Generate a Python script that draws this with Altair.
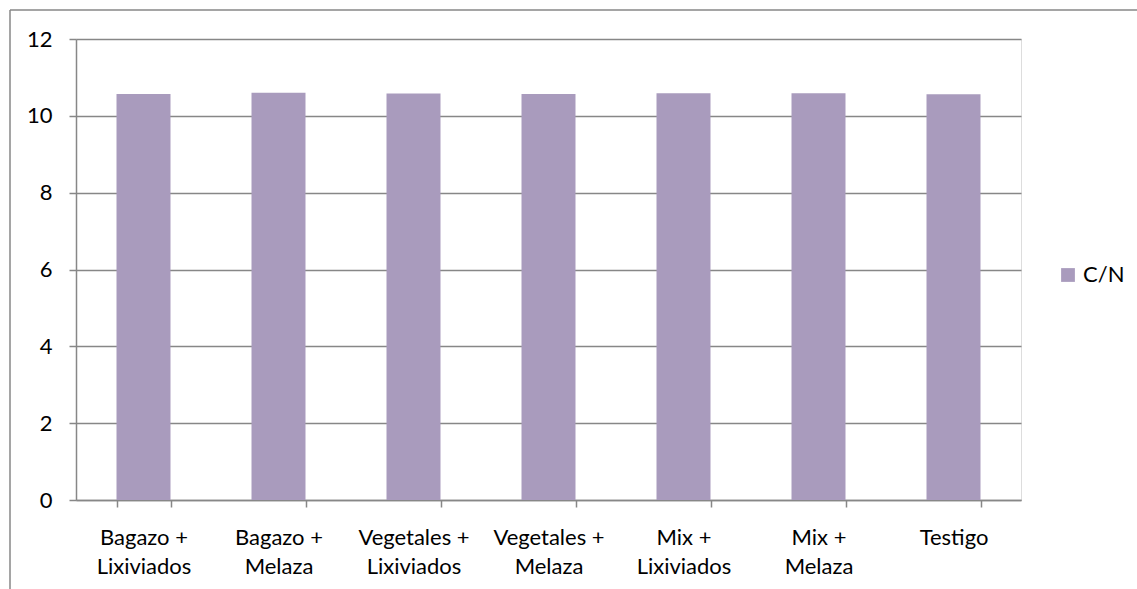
import altair as alt
import pandas as pd

# C/N ratio per treatment
tratamientos = [
    "Bagazo + Lixiviados",
    "Bagazo + Melaza",
    "Vegetales + Lixiviados",
    "Vegetales + Melaza",
    "Mix + Lixiviados",
    "Mix + Melaza",
    "Testigo",
]
cn_valores = [10.57, 10.60, 10.58, 10.57, 10.59, 10.59, 10.56]
serie = "C/N"

df = pd.DataFrame({"tratamiento": tratamientos, "valor": cn_valores, "serie": serie})

FONT = "Lato"
FS = 22
GRAY = "#878787"
BAR = "#A99BBD"

label_expr = (
    "indexof(datum.label, ' + ') >= 0 ? "
    "[split(datum.label, ' + ')[0] + ' +', split(datum.label, ' + ')[1]] : datum.label"
)

bars = alt.Chart(df).mark_bar(color=BAR).encode(
    x=alt.X(
        "tratamiento:N",
        sort=tratamientos,
        scale=alt.Scale(paddingInner=0.6, paddingOuter=0.3),
        axis=alt.Axis(
            title=None,
            labelAngle=0,
            labelExpr=label_expr,
            labelFont=FONT,
            labelFontSize=FS,
            labelFontWeight="normal",
            labelColor="#000000",
            labelLineHeight=29,
            labelBaseline="alphabetic",
            labelPadding=37,
            tickBand="extent",
            tickSize=7,
            tickColor=GRAY,
            domainColor=GRAY,
            domainWidth=1.5,
            tickWidth=1.5,
            grid=False,
        ),
    ),
    y=alt.Y(
        "valor:Q",
        scale=alt.Scale(domain=[0, 12], nice=False),
        axis=alt.Axis(
            title=None,
            values=[0, 2, 4, 6, 8, 10, 12],
            labelFont=FONT,
            labelFontSize=FS,
            labelFontWeight="normal",
            labelColor="#000000",
            labelPadding=17,
            tickSize=7,
            tickColor=GRAY,
            tickWidth=1.5,
            domainColor=GRAY,
            domainWidth=1.5,
            grid=True,
            gridColor=GRAY,
            gridWidth=1.5,
        ),
    ),
    fill=alt.Fill(
        "serie:N",
        scale=alt.Scale(domain=[serie], range=[BAR]),
        legend=alt.Legend(
            title=None,
            orient="none",
            legendX=981,
            legendY=225,
            symbolType="square",
            symbolSize=190,
            symbolStrokeWidth=0,
            labelFont=FONT,
            labelFontSize=FS,
            labelFontWeight="normal",
            labelColor="#000000",
            labelOffset=4,
        ),
    ),
)

# outer chart frame (left and top edges)
frame = alt.Data(values=[{"k": 0}])
left_edge = alt.Chart(frame).mark_rule(color=GRAY, strokeWidth=1.5).encode(
    x=alt.value(-66), y=alt.value(-29), y2=alt.value(700)
)
top_edge = alt.Chart(frame).mark_rule(color=GRAY, strokeWidth=1.5).encode(
    x=alt.value(-66), x2=alt.value(1200), y=alt.value(-29)
)

chart = alt.layer(bars, left_edge, top_edge).properties(
    width=945,
    height=461,
    autosize=alt.AutoSizeParams(type="none"),
    padding={"left": 76, "top": 39, "right": 116, "bottom": 89},
).configure_view(stroke=None).configure(background="white")

chart.save("out.html", embed_options={"renderer": "svg", "actions": False})
